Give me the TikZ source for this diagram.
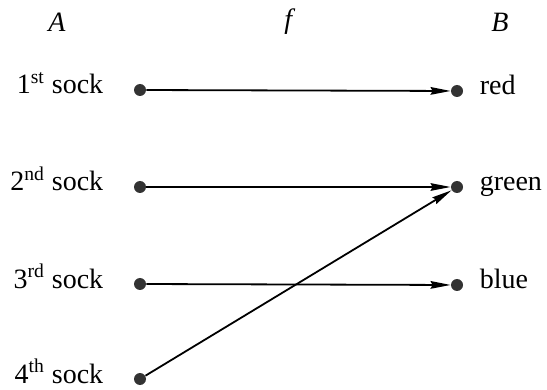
\documentclass[tikz,border=0pt]{standalone}
\usepackage{fontspec}
\setmainfont{Liberation Serif}
\usetikzlibrary{arrows.meta,positioning}

\begin{document}
\begin{tikzpicture}[
    x=0.5pt, y=-0.5pt,
    font=\fontsize{14pt}{16pt}\selectfont,
    dot/.style={
        circle,
        fill=black!80,
        minimum size=6pt,
        inner sep=0pt
    },
    lbl/.style={inner sep=0pt},
    map/.style={
        line width=0.9pt,
        -{Stealth[length=10pt,width=3.8pt,inset=1pt]}
    }
]
\useasboundingbox (0,0) rectangle (547,390);

% Headings
\node (hA) at (57,22) {\textit{A}};
\node (hf) at (290,22) {\textit{f}};
\node (hB) at (500,22) {\textit{B}};

% Socks
\node[dot] (s1) at (140,90) {};
\node[dot] (s2) at (140,187) {};
\node[dot] (s3) at (140,284) {};
\node[dot] (s4) at (140,379) {};

% Colours
\node[dot] (c1) at (457,91) {};
\node[dot] (c2) at (457,187) {};
\node[dot] (c3) at (457,285) {};

% Labels
\node[lbl, anchor=base east] (l1) at ([xshift=-15pt,yshift=-2pt]s1.west) {1\textsuperscript{st} sock};
\node[lbl, anchor=base east] (l2) at ([xshift=-15pt,yshift=-2pt]s2.west) {2\textsuperscript{nd} sock};
\node[lbl, anchor=base east] (l3) at ([xshift=-15pt,yshift=-2pt]s3.west) {3\textsuperscript{rd} sock};
\node[lbl, anchor=base east] (l4) at ([xshift=-15pt,yshift=-2pt]s4.west) {4\textsuperscript{th} sock};
\node[lbl, anchor=base west] (r1) at ([xshift=8pt,yshift=-2pt]c1.east) {red};
\node[lbl, anchor=base west] (r2) at ([xshift=8pt,yshift=-2pt]c2.east) {green};
\node[lbl, anchor=base west] (r3) at ([xshift=8pt,yshift=-2pt]c3.east) {blue};

% Mapping
\draw[map] (s1) -- (c1);
\draw[map] (s2) -- (c2);
\draw[map] (s3) -- (c3);
\draw[map] (s4) -- (c2);

\end{tikzpicture}
\end{document}
